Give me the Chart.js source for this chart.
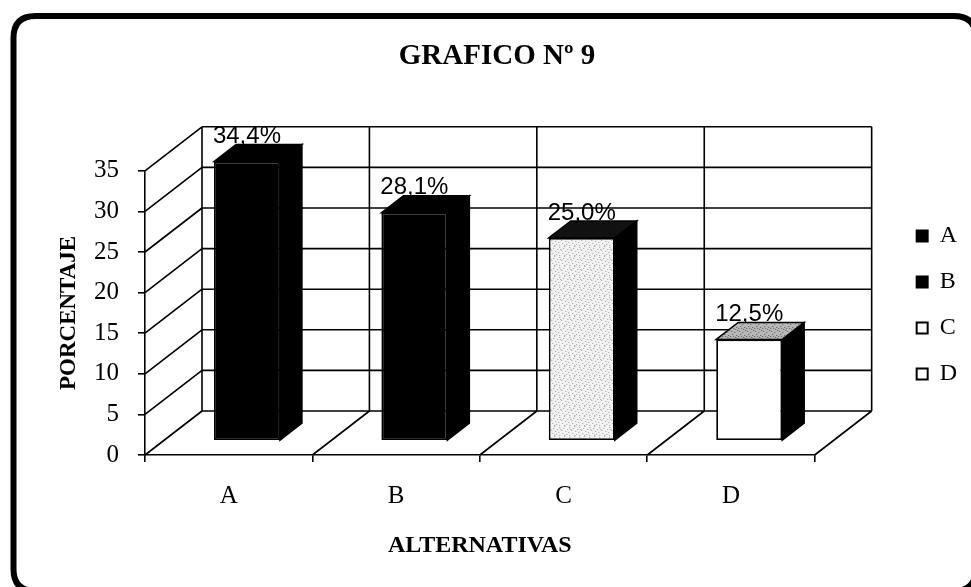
<!DOCTYPE html>
<html>
<head>
<meta charset="utf-8">
<script src="https://cdn.jsdelivr.net/npm/chart.js@4.4.1/dist/chart.umd.min.js"></script>
<style>
html,body{margin:0;padding:0;background:#fff;}
#wrap{width:971px;height:587px;position:relative;}
</style>
</head>
<body>
<div id="wrap"><canvas id="c" width="971" height="587"></canvas></div>
<script>
// ---- data ----
const categories = ['A', 'B', 'C', 'D'];
const values = [34.4, 28.1, 25.0, 12.5];
const valueLabels = ['34,4%', '28,1%', '25,0%', '12,5%'];
const yTicks = [0, 5, 10, 15, 20, 25, 30, 35];
const chartTitle = 'GRAFICO Nº 9';
const yTitle = 'PORCENTAJE';
const xTitle = 'ALTERNATIVAS';

// ---- patterns ----
function makePattern(bg, dot, pts, size) {
  const c = document.createElement('canvas');
  c.width = size; c.height = size;
  const g = c.getContext('2d');
  g.fillStyle = bg; g.fillRect(0, 0, size, size);
  g.fillStyle = dot;
  pts.forEach(p => g.fillRect(p[0], p[1], 1, 1));
  return g.createPattern(c, 'repeat');
}
const speckleLight = makePattern('#f4f4f4', '#9a9a9a',
  [[1,1],[5,2],[3,4],[7,5],[0,6],[4,7],[6,0],[2,3],[8,8],[9,3],[1,9],[6,9]], 10);
const speckleDark = makePattern('#b8b8b8', '#555',
  [[1,1],[4,2],[2,4],[6,5],[0,6],[5,7],[7,0],[3,6]], 8);

const frontColors = ['#000000', '#000000', speckleLight, '#ffffff'];
const topColors = ['#000000', '#000000', '#111111', speckleDark];
const sideColor = '#000000';
const legendFill = ['#000000', '#000000', '#ffffff', '#ffffff'];

// depth geometry (pixels)
const DX = 57, DY = -44;      // full depth of floor / walls
const F1 = 0.32;              // bar front position in depth
const BDX = 22, BDY = -17;    // bar depth

const depthPlugin = {
  id: 'depth3d',
  beforeDraw(chart) {
    const c = chart.ctx;
    c.save();
    c.fillStyle = '#fff';
    c.fillRect(0, 0, chart.width, chart.height);
    c.lineWidth = 6;
    c.strokeStyle = '#000';
    const x0 = 13.5, y0 = 16, x1 = 976, y1 = 591, r = 22;
    c.beginPath();
    c.moveTo(x0 + r, y0);
    c.lineTo(x1 - r, y0);
    c.quadraticCurveTo(x1, y0, x1, y0 + r);
    c.lineTo(x1, y1 - r);
    c.quadraticCurveTo(x1, y1, x1 - r, y1);
    c.lineTo(x0 + r, y1);
    c.quadraticCurveTo(x0, y1, x0, y1 - r);
    c.lineTo(x0, y0 + r);
    c.quadraticCurveTo(x0, y0, x0 + r, y0);
    c.stroke();
    c.restore();
  },
  beforeDatasetsDraw(chart) {
    const c = chart.ctx;
    const xs = chart.scales.x, ys = chart.scales.y;
    const left = xs.left, right = xs.right;
    const bottom = ys.getPixelForValue(0), top = ys.getPixelForValue(35);
    c.save();
    c.strokeStyle = '#000';
    c.lineWidth = 1.6;
    c.beginPath();
    yTicks.forEach(v => {
      const y = ys.getPixelForValue(v);
      c.moveTo(left, y); c.lineTo(left + DX, y + DY);
      c.moveTo(left + DX, y + DY); c.lineTo(right + DX, y + DY);
    });
    const n = categories.length;
    for (let i = 0; i <= n; i++) {
      const bx = left + (right - left) * i / n;
      c.moveTo(bx + DX, top + DY); c.lineTo(bx + DX, bottom + DY);
      c.moveTo(bx, bottom); c.lineTo(bx + DX, bottom + DY);
    }
    c.stroke();
    const meta = chart.getDatasetMeta(0);
    c.translate(F1 * DX, F1 * DY);
    c.fillStyle = '#000';
    c.font = '24px "Liberation Sans", Arial, sans-serif';
    c.textAlign = 'center';
    c.textBaseline = 'middle';
    meta.data.forEach((bar, i) => {
      c.fillText(valueLabels[i], bar.x, bar.y - 25);
    });
    c.restore();
    c.save();
    c.translate(F1 * DX, F1 * DY);
  },
  afterDatasetsDraw(chart) {
    const c = chart.ctx;
    const meta = chart.getDatasetMeta(0);
    meta.data.forEach((bar, i) => {
      const w = bar.width;
      const xl = bar.x - w / 2, xr = bar.x + w / 2;
      const yt = bar.y, yb = bar.base;
      c.fillStyle = sideColor;
      c.beginPath();
      c.moveTo(xr, yt); c.lineTo(xr + BDX, yt + BDY);
      c.lineTo(xr + BDX, yb + BDY); c.lineTo(xr, yb); c.closePath();
      c.fill();
      c.strokeStyle = '#000'; c.lineWidth = 1.5; c.stroke();
      c.fillStyle = topColors[i];
      c.beginPath();
      c.moveTo(xl, yt); c.lineTo(xl + BDX, yt + BDY);
      c.lineTo(xr + BDX, yt + BDY); c.lineTo(xr, yt); c.closePath();
      c.fill();
      c.stroke();
    });
    c.restore();
  }
};

const serif = '"Liberation Serif", "Times New Roman", serif';

new Chart(document.getElementById('c'), {
  type: 'bar',
  data: {
    labels: categories,
    datasets: [{
      label: 'Porcentaje',
      data: values,
      backgroundColor: frontColors,
      borderColor: '#000',
      borderWidth: 1.8,
      borderSkipped: false,
      barPercentage: 0.394,
      categoryPercentage: 1.0,
      clip: false
    }]
  },
  options: {
    responsive: false,
    animation: false,
    devicePixelRatio: 1,
    layout: { padding: { left: 27, top: 23, right: 4, bottom: 0 } },
    plugins: {
      title: {
        display: true,
        text: chartTitle,
        color: '#000',
        font: { family: serif, size: 29, weight: 'bold' },
        padding: { top: 16, bottom: 97 }
      },
      legend: {
        display: true,
        position: 'right',
        labels: {
          color: '#000',
          font: { family: serif, size: 24 },
          boxWidth: 11,
          boxHeight: 11,
          padding: 22,
          generateLabels: () => categories.map((c, i) => ({
            text: c,
            fillStyle: legendFill[i],
            strokeStyle: '#000',
            lineWidth: 2,
            hidden: false,
            index: i
          }))
        }
      },
      tooltip: { enabled: false }
    },
    scales: {
      x: {
        type: 'category',
        grid: { display: true, drawOnChartArea: false, drawTicks: true, tickLength: 7, color: '#000', lineWidth: 1.6, offset: true },
        border: { display: true, color: '#000', width: 1.6 },
        ticks: { color: '#000', font: { family: serif, size: 25 }, padding: 19 },
        title: { display: true, text: xTitle, color: '#000', font: { family: serif, size: 24, weight: 'bold' }, padding: { top: 0, bottom: 27 } },
        afterFit: s => { s.height = 132; }
      },
      y: {
        type: 'linear',
        min: 0, max: 35,
        ticks: { stepSize: 5, color: '#000', font: { family: serif, size: 25 }, padding: 19 },
        grid: { display: true, drawOnChartArea: false, drawTicks: true, tickLength: 7, color: '#000', lineWidth: 1.6 },
        border: { display: true, color: '#000', width: 1.6 },
        title: { display: true, text: yTitle, color: '#000', font: { family: serif, size: 23, weight: 'bold' }, padding: { top: 28, bottom: 0 } },
        afterFit: s => { s.width = 118; }
      },
      yR: {
        type: 'linear',
        position: 'right',
        display: true,
        grid: { display: false },
        border: { display: false },
        ticks: { display: false },
        afterFit: s => { s.width = 80; }
      }
    }
  },
  plugins: [depthPlugin]
});
</script>
</body>
</html>
